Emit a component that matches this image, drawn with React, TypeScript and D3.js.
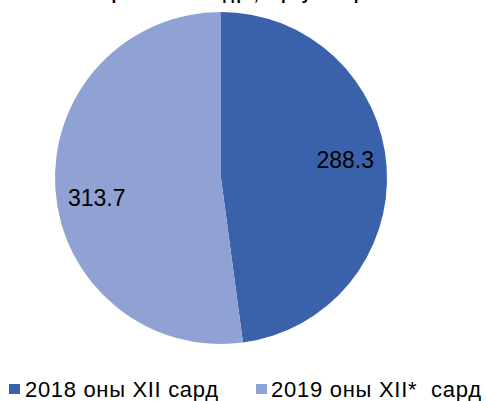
import * as d3 from "d3";

const WIDTH = 486;
const HEIGHT = 401;

const title = "Орлогын нийт дүн, тэрбум төгрөг";
const categories = ["2018 оны XII сард", "2019 оны XII*\u00a0 сард"];
const values = [288.3, 313.7];
const colors = ["#3A62AA", "#8FA2D3"];

type Slice = { label: string; value: number; color: string };

export default function App() {
  const data: Slice[] = categories.map((c, i) => ({
    label: c,
    value: values[i],
    color: colors[i],
  }));

  const cx = 221;
  const cy = 178;
  const radius = 166;

  const pie = d3
    .pie<Slice>()
    .value((d) => d.value)
    .sort(null);
  const arcs = pie(data);
  const arcGen = d3.arc<d3.PieArcDatum<Slice>>().innerRadius(0).outerRadius(radius);
  const labelArc = d3
    .arc<d3.PieArcDatum<Slice>>()
    .innerRadius(radius * 0.75)
    .outerRadius(radius * 0.75);
  // excel nudges labels a bit off the centroid
  const labelNudge = [-10, 12];

  const legendX = [9, 256];
  const legendW = [193, 210];

  return (
    <svg
      width={WIDTH}
      height={HEIGHT}
      style={{ position: "absolute", left: 0, top: 0 }}
      fontFamily="'Liberation Sans', Arial, sans-serif"
    >
      <rect width={WIDTH} height={HEIGHT} fill="#ffffff" />
      <text x={240} y={0} textAnchor="middle" fontSize={17} fontWeight="bold" fill="#000">
        {title}
      </text>
      <g transform={`translate(${cx},${cy})`}>
        {arcs.map((a, i) => (
          <path key={i} d={arcGen(a) || ""} fill={a.data.color} />
        ))}
        {arcs.map((a, i) => {
          const [x, y] = labelArc.centroid(a);
          return (
            <text
              key={i}
              x={x}
              y={y + labelNudge[i]}
              textAnchor="middle"
              dominantBaseline="central"
              fontSize={23}
              fill="#000"
            >
              {a.data.value.toFixed(1)}
            </text>
          );
        })}
      </g>
      {data.map((d, i) => (
        <g key={i} transform={`translate(${legendX[i]},${389})`}>
          <rect x={0} y={-5} width={11} height={10} fill={d.color} />
          <text
            x={i === 0 ? 16 : 15}
            y={8}
            fontSize={22}
            fill="#000"
            textLength={legendW[i]}
            lengthAdjust="spacing"
          >
            {d.label}
          </text>
        </g>
      ))}
    </svg>
  );
}
